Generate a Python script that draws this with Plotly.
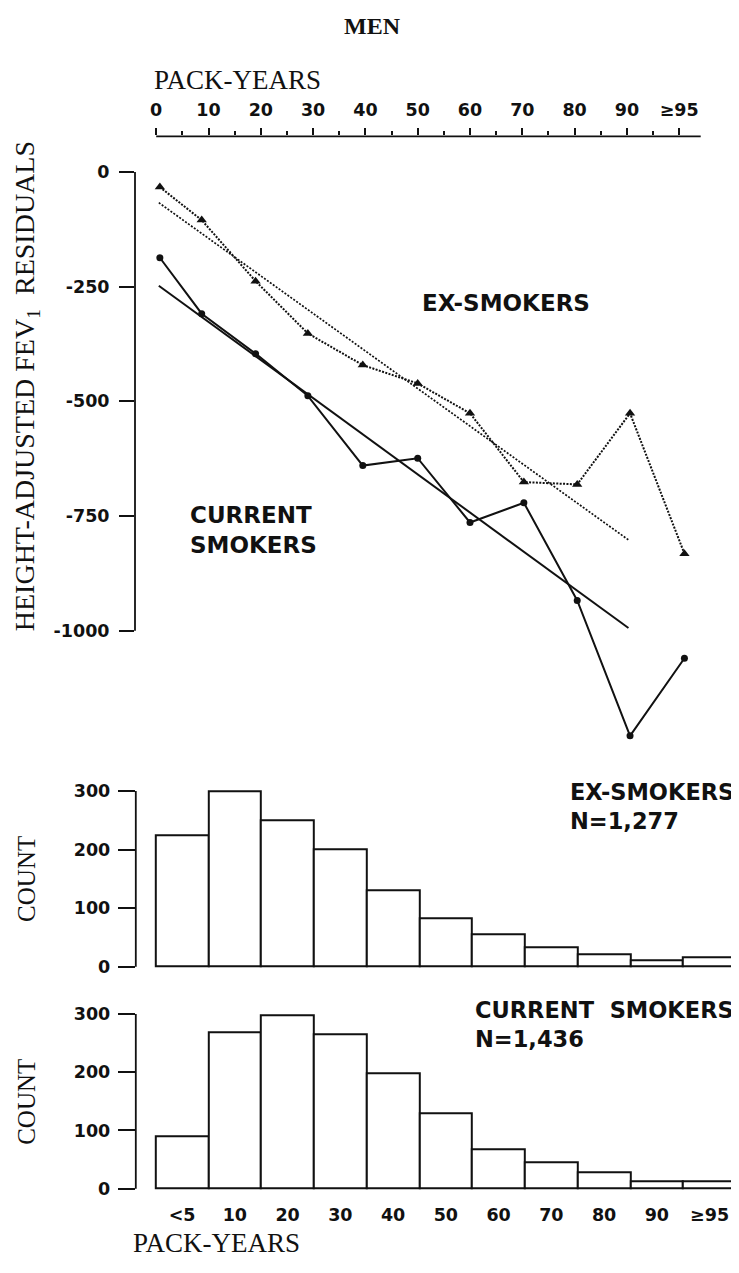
import plotly.graph_objects as go

# ---------------- data ----------------
pack_years_pos = [0.7, 8.7, 19, 29, 39.5, 50, 60, 70.3, 80.5, 90.6, 101]
current_resid = [-187, -309, -396, -488, -640, -624, -764, -721, -934, -1229, -1060]
ex_resid = [-33, -105, -238, -352, -421, -461, -526, -676, -681, -526, -832]

fit_x = [0.5, 90.3]
current_fit = [-248, -994]
ex_fit = [-67, -802]

top_tickvals = [0, 10, 20, 30, 40, 50, 60, 70, 80, 90, 100]
top_ticktext = ["0", "10", "20", "30", "40", "50", "60", "70", "80", "90", "≥95"]
top_minor_vals = [5, 15, 25, 35, 45, 55, 65, 75, 85, 95]
resid_tickvals = [0, -250, -500, -750, -1000]
resid_ticktext = ["0", "-250", "-500", "-750", "-1000"]

hist_categories = ["<5", "10", "20", "30", "40", "50", "60", "70", "80", "90", "≥95"]
ex_counts = [225, 300, 250, 201, 131, 83, 55, 33, 21, 11, 16]
current_counts = [90, 268, 297, 265, 198, 129, 68, 45, 28, 12, 12]
count_tickvals = [0, 100, 200, 300]

# ---------------- layout helpers ----------------
W, H = 739, 1273
OFF = 8  # page body margin in the browser


def fx(px):
    return (px - OFF) / W


def fy(px):
    return 1 - (px - OFF) / H


SANS = "DejaVu Sans"
SERIF = "Liberation Serif"
BLACK = "#111111"

fig = go.Figure()

# top panel: residual lines
fig.add_trace(go.Scatter(x=fit_x, y=ex_fit, mode="lines",
                         line=dict(color=BLACK, width=1.7, dash="2px,1.6px"),
                         xaxis="x", yaxis="y", showlegend=False))
fig.add_trace(go.Scatter(x=fit_x, y=current_fit, mode="lines",
                         line=dict(color=BLACK, width=2),
                         xaxis="x", yaxis="y", showlegend=False))
fig.add_trace(go.Scatter(x=pack_years_pos, y=ex_resid, mode="lines+markers",
                         line=dict(color=BLACK, width=2, dash="2px,1.4px"),
                         marker=dict(symbol="triangle-up", size=9, color=BLACK),
                         xaxis="x", yaxis="y", showlegend=False))
fig.add_trace(go.Scatter(x=pack_years_pos, y=current_resid, mode="lines+markers",
                         line=dict(color=BLACK, width=2),
                         marker=dict(symbol="circle", size=7, color=BLACK),
                         xaxis="x", yaxis="y", showlegend=False))

# histograms
bar_style = dict(marker=dict(color="white", line=dict(color=BLACK, width=2)),
                 showlegend=False, width=1.0)
fig.add_trace(go.Bar(x=hist_categories, y=ex_counts, xaxis="x2", yaxis="y2", **bar_style))
fig.add_trace(go.Bar(x=hist_categories, y=current_counts, xaxis="x3", yaxis="y3", **bar_style))

# geometry (pixels, page coordinates)
x0_px, unit_px = 156.2, 5.23          # top axis: value 0 at x0_px, px per pack-year
top_axis_px, top_bottom_px = 135, 752
y0_px, y_unit = 170.7, 0.461          # residual axis: 0 at y0_px, px per unit
yaxis_px = 135
right_px = W + OFF

top_x_range = [(yaxis_px - x0_px) / unit_px, (right_px - x0_px) / unit_px]
top_y_range = [-(top_bottom_px - y0_px) / y_unit, (y0_px - top_axis_px) / y_unit]

bar0_px, bar_w = 155.7, 52.75
hist_axis_px = 135.8
hist_x_range = [-0.5 - (bar0_px - hist_axis_px) / bar_w, -0.5 + (right_px - bar0_px) / bar_w]

ex_zero_px, ex_300_px = 969.3, 792.7
cu_zero_px, cu_300_px = 1192.3, 1016.7
ex_scale = (ex_zero_px - ex_300_px) / 300
cu_scale = (cu_zero_px - cu_300_px) / 300
ex_top, ex_bot = 785, 975
cu_top, cu_bot = 1008, 1198

tickfont = dict(family=SANS, size=17.5, color=BLACK, weight="bold")

fig.update_layout(
    width=W, height=H,
    margin=dict(l=0, r=0, t=0, b=0),
    paper_bgcolor="white", plot_bgcolor="white",
    bargap=0,
    xaxis=dict(domain=[fx(yaxis_px), 1], range=top_x_range, side="top", anchor="y",
               tickmode="array", tickvals=top_tickvals, ticktext=top_ticktext,
               ticks="outside", ticklen=7, tickwidth=1.5, tickcolor=BLACK,
               ticklabelstandoff=5,
               minor=dict(tickmode="array", tickvals=top_minor_vals, ticks="outside",
                          ticklen=4, tickwidth=1.5, tickcolor=BLACK),
               tickfont=tickfont, showgrid=False, zeroline=False, showline=False),
    yaxis=dict(domain=[fy(top_bottom_px), fy(top_axis_px)], range=top_y_range, anchor="x",
               tickmode="array", tickvals=resid_tickvals, ticktext=resid_ticktext,
               ticks="outside", ticklen=15, tickwidth=1.5, tickcolor=BLACK,
               ticklabelstandoff=6,
               tickfont=tickfont, showgrid=False, zeroline=False, showline=False),
    xaxis2=dict(domain=[fx(hist_axis_px), 1], range=hist_x_range, anchor="y2",
                type="category", categoryorder="array", categoryarray=hist_categories,
                showticklabels=False, ticks="", showgrid=False, zeroline=False, showline=False),
    yaxis2=dict(domain=[fy(ex_bot), fy(ex_top)],
                range=[-(ex_bot - ex_zero_px) / ex_scale, (ex_zero_px - ex_top) / ex_scale],
                anchor="x2", tickmode="array", tickvals=count_tickvals,
                ticks="outside", ticklen=17, tickwidth=1.5, tickcolor=BLACK,
                ticklabelstandoff=4,
                tickfont=tickfont, showgrid=False, zeroline=False, showline=False),
    xaxis3=dict(domain=[fx(hist_axis_px), 1], range=hist_x_range, anchor="y3",
                type="category", categoryorder="array", categoryarray=hist_categories,
                ticks="", tickfont=tickfont, ticklabelstandoff=8,
                showgrid=False, zeroline=False, showline=False),
    yaxis3=dict(domain=[fy(cu_bot), fy(cu_top)],
                range=[-(cu_bot - cu_zero_px) / cu_scale, (cu_zero_px - cu_top) / cu_scale],
                anchor="x3", tickmode="array", tickvals=count_tickvals,
                ticks="outside", ticklen=17, tickwidth=1.5, tickcolor=BLACK,
                ticklabelstandoff=4,
                tickfont=tickfont, showgrid=False, zeroline=False, showline=False),
)

# axis spines drawn as shapes (they cover only the labelled span)
line = dict(color=BLACK, width=1.8)
fig.add_shape(type="line", xref="x", yref="paper", x0=0, x1=(700.7 - x0_px) / unit_px,
              y0=fy(top_axis_px), y1=fy(top_axis_px), line=line)
fig.add_shape(type="line", xref="paper", yref="y", x0=fx(yaxis_px), x1=fx(yaxis_px),
              y0=0, y1=-1000, line=line)
fig.add_shape(type="line", xref="paper", yref="y2", x0=fx(hist_axis_px), x1=fx(hist_axis_px),
              y0=0, y1=300, line=line)
fig.add_shape(type="line", xref="paper", yref="y3", x0=fx(hist_axis_px), x1=fx(hist_axis_px),
              y0=0, y1=300, line=line)

sans_lbl = dict(family=SANS, size=23, color=BLACK, weight="bold")
sans_hist = dict(family=SANS, size=22.5, color=BLACK, weight="bold")


def serif(size):
    return dict(family=SERIF, size=size, color=BLACK)


def ann(text, x, y, font, xanchor="left", angle=0, align="left"):
    fig.add_annotation(text=text, x=fx(x), y=fy(y), xref="paper", yref="paper",
                       xanchor=xanchor, yanchor="middle", showarrow=False,
                       font=font, textangle=angle, align=align)


ann("<b>MEN</b>", 372, 24, serif(24), xanchor="center")
ann("PACK-YEARS", 152, 78, serif(27))
ann("HEIGHT-ADJUSTED FEV<sub>1</sub>  RESIDUALS", 26, 386, serif(28), xanchor="center", angle=-90)
ann("EX-SMOKERS", 420, 302, sans_lbl)
ann("CURRENT<br>SMOKERS", 188, 530, sans_lbl)
ann("EX-SMOKERS<br>N=1,277", 736, 808, sans_hist, xanchor="right")
ann("CURRENT  SMOKERS<br>N=1,436", 736, 1027, sans_hist, xanchor="right")
ann("COUNT", 27, 881, serif(25), xanchor="center", angle=-90)
ann("COUNT", 27, 1105, serif(25), xanchor="center", angle=-90)
ann("PACK-YEARS", 216, 1247, serif(27), xanchor="center")

fig.write_html("out.html")
